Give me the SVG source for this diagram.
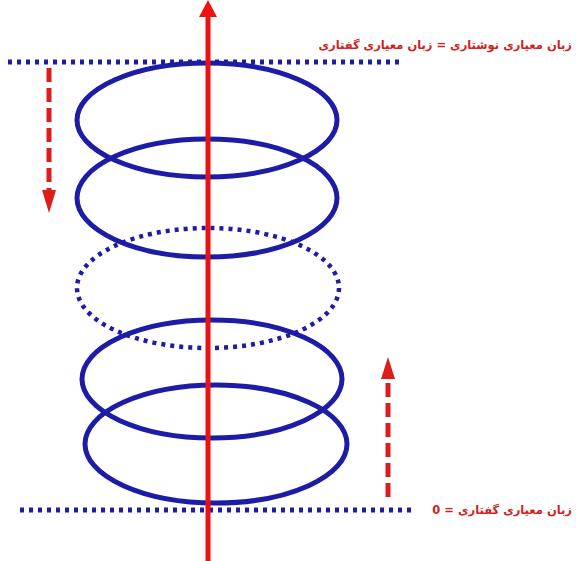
<svg xmlns="http://www.w3.org/2000/svg" width="576" height="561" viewBox="0 0 576 561">
<defs>
<style>
.ring{fill:none;stroke:#1c1ca6;stroke-width:5}
.dotring{fill:none;stroke:#1c1ca6;stroke-width:4.5;stroke-dasharray:4 5}
.level{fill:none;stroke:#1c1ca6;stroke-width:5;stroke-dasharray:4 5}
.dash{fill:none;stroke:#dd1c1c;stroke-width:5;stroke-dasharray:14 6}
.axis{fill:none;stroke:#ee1111;stroke-width:5}
.lbl{font-family:"DejaVu Sans",sans-serif;font-weight:bold;font-size:11.5px;fill:#d42020}
</style>
</defs>
<rect width="576" height="561" fill="#ffffff"/>
<g id="levels">
<line id="top-level" class="level" x1="8" y1="62" x2="404" y2="62"/>
<line id="bottom-level" class="level" x1="20" y1="510" x2="416" y2="510"/>
</g>
<g id="rings">
<ellipse id="ring1" class="ring" cx="207" cy="120" rx="130" ry="57"/>
<ellipse id="ring2" class="ring" cx="207" cy="198" rx="130" ry="59"/>
<ellipse id="ring3" class="dotring" cx="208" cy="288" rx="131" ry="60"/>
<ellipse id="ring4" class="ring" cx="212" cy="379" rx="130" ry="59"/>
<ellipse id="ring5" class="ring" cx="216" cy="444" rx="131" ry="59"/>
</g>
<g id="connectors">
<line class="dash" x1="49" y1="68" x2="49" y2="192"/>
<polygon points="42,190 56,190 49,213" fill="#dd1c1c"/>
<line class="dash" x1="388" y1="497" x2="388" y2="377"/>
<polygon points="381,379 395,379 388,357" fill="#dd1c1c"/>
<line class="axis" x1="208" y1="561" x2="208" y2="14"/>
<polygon points="199,17 217,17 208,0" fill="#ee1111"/>
</g>
<g id="labels">
<text class="lbl" x="572" y="49" text-anchor="start" direction="rtl" unicode-bidi="embed">زبان معیاری  نوشتاری = زبان معیاری گفتاری</text>
<text class="lbl" x="572" y="514" text-anchor="start" direction="rtl" unicode-bidi="embed">زبان معیاری گفتاری = 0</text>
</g>
</svg>
